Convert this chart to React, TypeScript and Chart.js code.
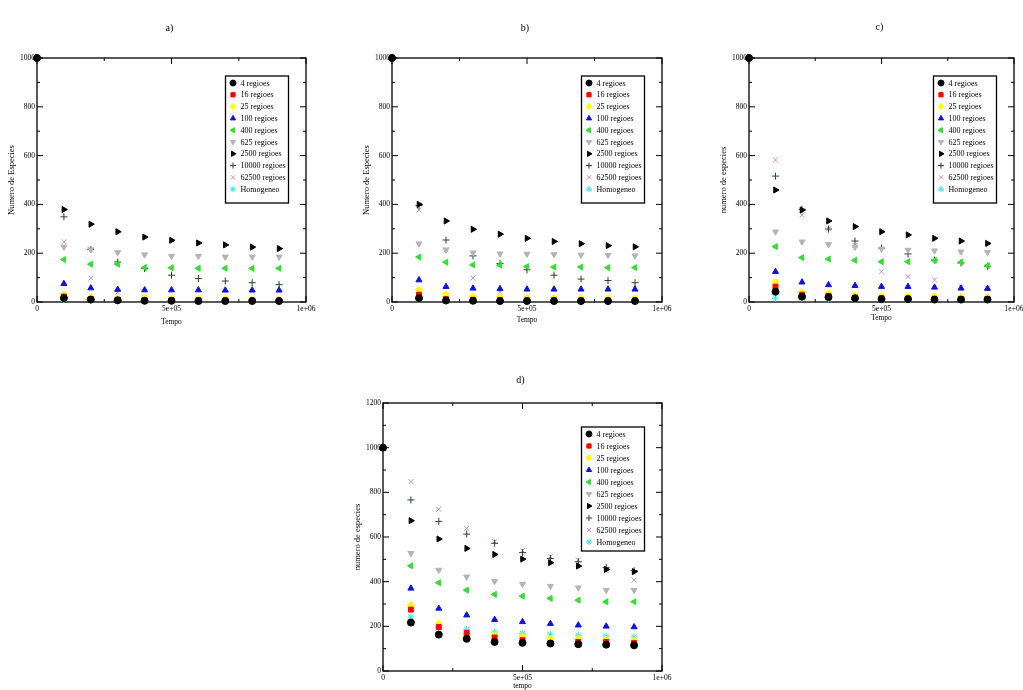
import React, { useEffect, useRef } from 'react';
import { Chart, registerables, PointElement } from 'chart.js';

Chart.register(...registerables);

// ---------- data ----------
const timeSteps = [0, 1e5, 2e5, 3e5, 4e5, 5e5, 6e5, 7e5, 8e5, 9e5];

const seriesLabels = [
  '4 regioes', '16 regioes', '25 regioes', '100 regioes', '400 regioes',
  '625 regioes', '2500 regioes', '10000 regioes', '62500 regioes', 'Homogeneo',
];
const seriesColors = [
  '#000000', '#ff0000', '#ffff00', '#1010d8', '#33dd33',
  '#b4b4b4', '#000000', '#1f4a1f', '#c090b8', '#30e8e8',
];
const seriesStyles = [
  'circle', 'rect', 'rectRot', 'triangle', 'triangle',
  'triangle', 'triangle', 'cross', 'crossRot', 'star',
];
const seriesRotations = [0, 0, 0, 0, -90, 180, 90, 0, 0, 0];

const xTickLabels = ['0', '5e+05', '1e+06'];
const panelTitles = ['a)', 'b)', 'c)', 'd)'];

const panelAValues = [
  [1000, 16, 10, 7, 5, 5, 4, 4, 4, 4],
  [1000, 22, 12, 9, 8, 7, 7, 6, 6, 6],
  [1000, 30, 20, 16, 17, 14, 14, 14, 10, 10],
  [1000, 75, 57, 51, 49, 49, 49, 48, 48, 48],
  [1000, 174, 155, 155, 141, 140, 138, 138, 138, 138],
  [1000, 226, 215, 203, 194, 188, 188, 185, 185, 185],
  [1000, 379, 319, 288, 266, 253, 242, 234, 225, 219],
  [1000, 349, 215, 164, 137, 110, 96, 86, 79, 71],
  [1000, 247, 98, 40, 20, 12, 8, 6, 5, 4],
  [1000, 10, 6, 5, 4, 4, 4, 4, 4, 4],
];
const panelBValues = [
  [1000, 16, 6, 5, 4, 4, 4, 4, 4, 4],
  [1000, 30, 12, 9, 8, 7, 7, 6, 6, 6],
  [1000, 50, 30, 23, 20, 18, 17, 16, 16, 15],
  [1000, 90, 63, 56, 54, 52, 52, 52, 52, 52],
  [1000, 184, 163, 152, 151, 145, 143, 143, 141, 141],
  [1000, 239, 214, 202, 198, 197, 195, 193, 192, 190],
  [1000, 400, 332, 298, 278, 261, 248, 239, 231, 226],
  [1000, 395, 254, 189, 158, 132, 110, 94, 88, 79],
  [1000, 377, 214, 98, 40, 20, 12, 8, 6, 5],
  [1000, 12, 6, 5, 4, 4, 4, 4, 4, 4],
];
const panelCValues = [
  [1000, 42, 22, 20, 15, 12, 12, 10, 10, 10],
  [1000, 63, 30, 25, 18, 15, 14, 13, 12, 12],
  [1000, 83, 41, 35, 28, 25, 25, 24, 22, 20],
  [1000, 124, 81, 70, 67, 63, 63, 60, 56, 55],
  [1000, 227, 182, 176, 171, 165, 165, 170, 163, 149],
  [1000, 288, 247, 236, 226, 218, 213, 210, 206, 204],
  [1000, 459, 377, 332, 309, 288, 275, 261, 250, 240],
  [1000, 516, 380, 299, 250, 221, 197, 172, 160, 147],
  [1000, 582, 357, 300, 232, 124, 104, 90, 62, 55],
  [1000, 16, 16, 12, 10, 8, 8, 8, 8, 8],
];
const panelDValues = [
  [1000, 217, 163, 144, 130, 126, 123, 120, 118, 115],
  [1000, 275, 197, 170, 150, 138, 126, 130, 130, 125],
  [1000, 296, 212, 160, 160, 156, 145, 145, 141, 138],
  [1000, 370, 280, 250, 230, 220, 212, 205, 200, 197],
  [1000, 471, 395, 362, 343, 335, 325, 317, 310, 310],
  [1000, 527, 452, 422, 402, 389, 380, 373, 362, 362],
  [1000, 673, 591, 549, 522, 501, 485, 470, 455, 445],
  [1000, 766, 670, 613, 572, 530, 504, 489, 464, 449],
  [1000, 848, 724, 639, 579, 539, 512, 497, 449, 407],
  [1000, 242, 197, 186, 175, 168, 165, 160, 156, 153],
];

// ---------- layout ----------
const FONT = '"Liberation Serif", "DejaVu Serif", serif';
const Y_W = 37;
const X_H = 30;
const PAD_T = 45;
const PAD_R = 30;
const PAD_B = 10;

type PanelCfg = {
  title: string;
  values: number[][];
  yMax: number;
  yTitle: string;
  xTitle: string;
  plotL: number; plotR: number; plotT: number; plotB: number;
  titleGap: number;
  xTitleGap: number;
  legendOffset: number;
  legendRow: number;
  legendH: number;
};

const panels: PanelCfg[] = [
  { title: panelTitles[0], values: panelAValues, yMax: 1000, yTitle: 'Numero de Especies', xTitle: 'Tempo',
    plotL: 37, plotR: 306, plotT: 58, plotB: 302, titleGap: 30, xTitleGap: 20, legendOffset: 18, legendRow: 11.8, legendH: 127 },
  { title: panelTitles[1], values: panelBValues, yMax: 1000, yTitle: 'Numero de Especies', xTitle: 'Tempo',
    plotL: 392, plotR: 662, plotT: 58, plotB: 302, titleGap: 30, xTitleGap: 18, legendOffset: 18, legendRow: 11.8, legendH: 127 },
  { title: panelTitles[2], values: panelCValues, yMax: 1000, yTitle: 'numero de especies', xTitle: 'Tempo',
    plotL: 749, plotR: 1014, plotT: 58, plotB: 302, titleGap: 31, xTitleGap: 16, legendOffset: 18, legendRow: 11.8, legendH: 127 },
  { title: panelTitles[3], values: panelDValues, yMax: 1200, yTitle: 'numero de especies', xTitle: 'tempo',
    plotL: 383, plotR: 662, plotT: 403, plotB: 671, titleGap: 23, xTitleGap: 15, legendOffset: 24, legendRow: 12, legendH: 124 },
];

function Panel({ cfg }: { cfg: PanelCfg }) {
  const ref = useRef<HTMLCanvasElement>(null);
  const W = cfg.plotR - cfg.plotL + Y_W + PAD_R;
  const H = cfg.plotB - cfg.plotT + PAD_T + X_H + PAD_B;

  useEffect(() => {
    if (!ref.current) return;
    const decor = {
      id: 'decor',
      beforeDatasetsDraw(chart: any) {
        const ctx = chart.ctx;
        const { left, right, top, bottom } = chart.chartArea;
        const xs = chart.scales.x;
        const ys = chart.scales.y;
        ctx.save();
        ctx.strokeStyle = '#000';
        ctx.lineWidth = 1.3;
        ctx.strokeRect(left, top, right - left, bottom - top);
        ctx.lineWidth = 1;
        ctx.beginPath();
        for (let v = 0; v <= 1e6 + 1; v += 2.5e5) {
          const p = xs.getPixelForValue(v);
          const len = v % 5e5 === 0 ? 6 : 3;
          ctx.moveTo(p, bottom); ctx.lineTo(p, bottom - len);
          ctx.moveTo(p, top); ctx.lineTo(p, top + len);
        }
        for (let v = 0; v <= cfg.yMax; v += 100) {
          const p = ys.getPixelForValue(v);
          const len = v % 200 === 0 ? 6 : 3;
          ctx.moveTo(left, p); ctx.lineTo(left + len, p);
          ctx.moveTo(right, p); ctx.lineTo(right - len, p);
        }
        ctx.stroke();
        ctx.restore();
      },
      afterDraw(chart: any) {
        const ctx = chart.ctx;
        const { left, right, top } = chart.chartArea;
        ctx.save();
        // panel title
        ctx.fillStyle = '#000';
        ctx.font = `10px ${FONT}`;
        ctx.textAlign = 'center';
        ctx.textBaseline = 'middle';
        ctx.fillText(cfg.title, (left + right) / 2 - 2, top - cfg.titleGap);
        // legend box
        const bl = right - 80.5;
        const bt = top + cfg.legendOffset;
        ctx.fillStyle = '#fff';
        ctx.fillRect(bl, bt, 63, cfg.legendH);
        ctx.strokeStyle = '#000';
        ctx.lineWidth = 1.3;
        ctx.strokeRect(bl, bt, 63, cfg.legendH);
        chart.data.datasets.forEach((ds: any, i: number) => {
          const y = bt + 7 + i * cfg.legendRow;
          const pt: any = new (PointElement as any)({
            x: bl + 7.5,
            y,
            options: {
              pointStyle: ds.pointStyle,
              rotation: ds.pointRotation,
              radius: 3,
              borderWidth: 1,
              backgroundColor: ds.pointBackgroundColor,
              borderColor: ds.pointBorderColor,
            },
          });
          pt.draw(ctx);
          ctx.fillStyle = '#000';
          ctx.font = `8px ${FONT}`;
          ctx.textAlign = 'left';
          ctx.textBaseline = 'middle';
          ctx.fillText(ds.label, bl + 15, y + 0.5);
        });
        ctx.restore();
      },
    };

    const tickFont = { family: FONT, size: 7.5 };
    const chart = new Chart(ref.current, {
      type: 'scatter',
      data: {
        datasets: seriesLabels.map((label, i) => ({
          label,
          data: timeSteps.map((t, j) => ({ x: t, y: cfg.values[i][j] })),
          pointStyle: seriesStyles[i] as any,
          pointRotation: seriesRotations[i],
          pointRadius: 3.5,
          pointBorderWidth: 1,
          pointBackgroundColor: seriesColors[i],
          pointBorderColor: seriesColors[i],
          showLine: false,
          clip: false as any,
        })),
      },
      options: {
        animation: false,
        responsive: false,
        devicePixelRatio: 1,
        events: [],
        layout: { padding: { left: 0, top: PAD_T, right: PAD_R, bottom: PAD_B } },
        plugins: { legend: { display: false }, tooltip: { enabled: false }, title: { display: false } },
        scales: {
          x: {
            type: 'linear',
            min: 0,
            max: 1e6,
            afterFit: (s: any) => { s.height = X_H; },
            grid: { display: false, drawTicks: false },
            border: { display: false },
            ticks: {
              stepSize: 5e5,
              autoSkip: false,
              maxRotation: 0,
              padding: 3,
              color: '#000',
              font: tickFont,
              callback: (_v: any, i: number) => xTickLabels[i] ?? '',
            },
            title: {
              display: true,
              text: cfg.xTitle,
              color: '#000',
              font: { family: FONT, size: 7.5 },
              padding: { top: 0, bottom: X_H - cfg.xTitleGap - 4.5 },
            },
          },
          y: {
            type: 'linear',
            min: 0,
            max: cfg.yMax,
            afterFit: (s: any) => { s.width = Y_W; },
            grid: { display: false, drawTicks: false },
            border: { display: false },
            ticks: {
              stepSize: 200,
              padding: 2,
              color: '#000',
              font: tickFont,
              callback: (v: any) => String(v),
            },
            title: {
              display: true,
              text: cfg.yTitle,
              color: '#000',
              font: { family: FONT, size: 8.5 },
              padding: { top: 7, bottom: 0 },
            },
          },
        },
      },
      plugins: [decor],
    } as any);
    return () => chart.destroy();
  }, []);

  return (
    <canvas
      ref={ref}
      width={W}
      height={H}
      style={{ position: 'absolute', left: cfg.plotL - Y_W, top: cfg.plotT - PAD_T, width: W, height: H }}
    />
  );
}

export default function App() {
  return (
    <div style={{ position: 'absolute', left: 0, top: 0, width: 1023, height: 690, overflow: 'hidden', background: '#fff' }}>
      {panels.map((p, i) => (
        <Panel key={i} cfg={p} />
      ))}
    </div>
  );
}
